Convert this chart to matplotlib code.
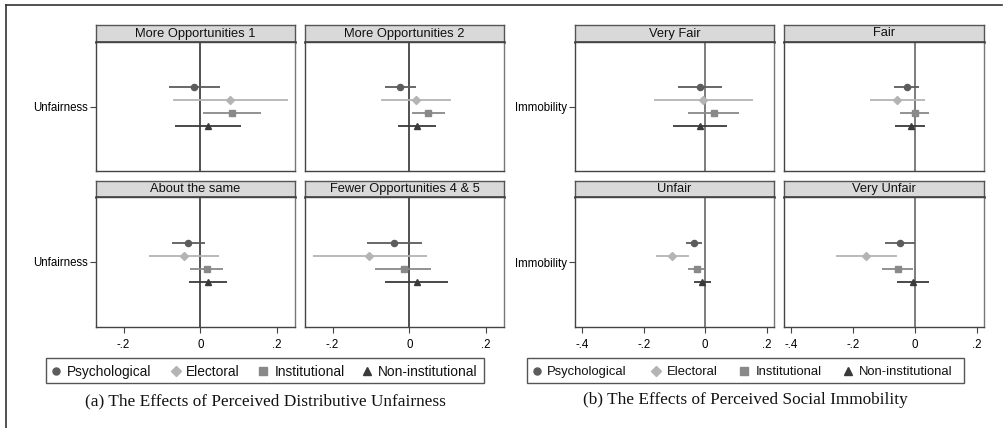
import matplotlib
matplotlib.use("Agg")
import matplotlib.pyplot as plt
from matplotlib.lines import Line2D
from matplotlib.patches import Rectangle
import numpy as np

# ---------------- data ----------------
series = ["Psychological", "Electoral", "Institutional", "Non-institutional"]
series_colors = ["#5c5c5c", "#b4b4b4", "#898989", "#3a3a3a"]
series_markers = ["o", "D", "s", "^"]
series_offsets = [1.5, 0.5, -0.5, -1.5]

# (a) Distributive unfairness
panels_a = ["More Opportunities 1", "More Opportunities 2",
            "About the same", "Fewer Opportunities 4 & 5"]
est_a = [
    [-0.016, 0.078, 0.083, 0.020],
    [-0.023, 0.018, 0.050, 0.020],
    [-0.031, -0.043, 0.017, 0.020],
    [-0.039, -0.104, -0.015, 0.020],
]
lo_a = [
    [-0.082, -0.071, 0.007, -0.065],
    [-0.064, -0.073, 0.006, -0.030],
    [-0.075, -0.133, -0.027, -0.029],
    [-0.111, -0.252, -0.090, -0.063],
]
hi_a = [
    [0.051, 0.230, 0.158, 0.105],
    [0.017, 0.110, 0.094, 0.070],
    [0.012, 0.048, 0.060, 0.070],
    [0.034, 0.046, 0.057, 0.102],
]
ylabel_a = "Unfairness"
xticks_a = [-0.2, 0.0, 0.2]
xticklabels_a = ["-.2", "0", ".2"]
caption_a = "(a) The Effects of Perceived Distributive Unfairness"

# (b) Social immobility
panels_b = ["Very Fair", "Fair", "Unfair", "Very Unfair"]
est_b = [
    [-0.017, -0.008, 0.027, -0.018],
    [-0.027, -0.058, -0.001, -0.013],
    [-0.038, -0.108, -0.028, -0.011],
    [-0.047, -0.157, -0.056, -0.005],
]
lo_b = [
    [-0.088, -0.167, -0.055, -0.105],
    [-0.066, -0.146, -0.047, -0.063],
    [-0.064, -0.161, -0.055, -0.037],
    [-0.096, -0.254, -0.105, -0.058],
]
hi_b = [
    [0.055, 0.154, 0.111, 0.070],
    [0.014, 0.033, 0.047, 0.034],
    [-0.012, -0.053, -0.003, 0.018],
    [0.000, -0.058, -0.006, 0.047],
]
ylabel_b = "Immobility"
xticks_b = [-0.4, -0.2, 0.0, 0.2]
xticklabels_b = ["-.4", "-.2", "0", ".2"]
caption_b = "(b) The Effects of Perceived Social Immobility"

# ---------------- layout ----------------
W, H = 1006, 428
fig = plt.figure(figsize=(W / 100, H / 100), dpi=100)
fig.patch.set_facecolor("white")
SANS = "Liberation Sans"
SERIF = "Liberation Serif"

def fx(x):
    return x / W

def fy(y):
    return 1 - y / H

def px_axes(x0, y0, x1, y1):
    return fig.add_axes([x0 / W, 1 - y1 / H, (x1 - x0) / W, (y1 - y0) / H])

def msize(m, scale=1.0):
    return (4.4 if m != "D" else 4.0) * scale

def draw_group(xcols, rows, titles, est, lo, hi, xlim, xticks, xticklabels,
               ylabel, zero_color):
    k = 0
    for r, (strip_top, plot_top, plot_bot) in enumerate(rows):
        for c, (x0, x1) in enumerate(xcols):
            # strip
            sax = px_axes(x0, strip_top, x1, plot_top)
            sax.set_facecolor("#d9d9d9")
            sax.set_xticks([]); sax.set_yticks([])
            for sp in sax.spines.values():
                sp.set_color("#555555"); sp.set_linewidth(1.0)
            sax.spines["bottom"].set_linewidth(1.8)
            sax.spines["bottom"].set_color("#333333")
            sax.text(0.5, 0.5, titles[k], ha="center", va="center",
                     fontsize=9.3, family=SANS, color="#111111",
                     transform=sax.transAxes)
            # plot
            ax = px_axes(x0, plot_top, x1, plot_bot)
            ax.set_xlim(*xlim)
            ax.set_ylim(-5, 5)
            for sp in ax.spines.values():
                sp.set_color("#444444"); sp.set_linewidth(1.0)
            ax.spines["right"].set_color("#777777")
            ax.axvline(0, color=zero_color, lw=1.2, zorder=1)
            for s in range(len(series)):
                y = series_offsets[s]
                ax.plot([lo[k][s], hi[k][s]], [y, y], color=series_colors[s],
                        lw=1.3, solid_capstyle="butt", zorder=2)
                ax.plot([est[k][s]], [y], marker=series_markers[s],
                        color=series_colors[s], markersize=msize(series_markers[s]),
                        linestyle="none", zorder=3)
            if r == len(rows) - 1:
                ax.set_xticks(xticks)
                ax.set_xticklabels(xticklabels, fontsize=8.3, family=SANS)
                ax.tick_params(axis="x", length=4, width=0.8, color="#444444", pad=5)
            else:
                ax.set_xticks([])
            if c == 0:
                ax.set_yticks([0])
                ax.set_yticklabels([ylabel], fontsize=8.3, family=SANS)
                ax.tick_params(axis="y", length=4, width=0.8, color="#444444", pad=2)
            else:
                ax.set_yticks([])
            k += 1

rows = [(25, 42, 171), (181, 197, 327)]
draw_group([(96, 295), (305, 504)], rows, panels_a, est_a, lo_a, hi_a,
           (-0.272, 0.247), xticks_a, xticklabels_a, ylabel_a, "#333333")
draw_group([(575, 774), (784, 984)], rows, panels_b, est_b, lo_b, hi_b,
           (-0.424, 0.224), xticks_b, xticklabels_b, ylabel_b, "#666666")

# legends (manual, single row)
def draw_legend(box, marker_x, text_x, fsize):
    x0, x1, y0, y1 = box
    fig.add_artist(Rectangle((fx(x0), fy(y1)), fx(x1) - fx(x0), fy(y0) - fy(y1),
                             transform=fig.transFigure, fill=False,
                             edgecolor="#555555", lw=1.0))
    yc = fy((y0 + y1) / 2)
    for i in range(len(series)):
        fig.add_artist(Line2D([fx(marker_x[i])], [yc], marker=series_markers[i],
                              color=series_colors[i], linestyle="none",
                              markersize=msize(series_markers[i], 1.15),
                              transform=fig.transFigure))
        fig.text(fx(text_x[i]), yc, series[i], ha="left", va="center_baseline",
                 fontsize=fsize, family=SANS, color="#111111")

draw_legend((46, 484, 358, 383), [56, 176, 263, 367], [66.5, 186, 275, 378], 9.9)
draw_legend((527, 964, 358, 383), [536.5, 655.5, 744, 848], [547, 666.5, 755.5, 859], 9.4)

fig.text(265 / W, 1 - 401 / H, caption_a, ha="center", va="center",
         fontsize=12.4, family=SERIF, color="#111111")
fig.text(745 / W, 1 - 400 / H, caption_b, ha="center", va="center",
         fontsize=12.4, family=SERIF, color="#111111")

# outer frame (top and left edges)
fig.add_artist(Line2D([6 / W, 6 / W], [0, 1 - 5 / H], transform=fig.transFigure,
                      color="#333333", lw=1.2))
fig.add_artist(Line2D([6 / W, 1002 / W], [1 - 5 / H, 1 - 5 / H],
                      transform=fig.transFigure, color="#333333", lw=1.2))

fig.savefig("out.png", dpi=100)
